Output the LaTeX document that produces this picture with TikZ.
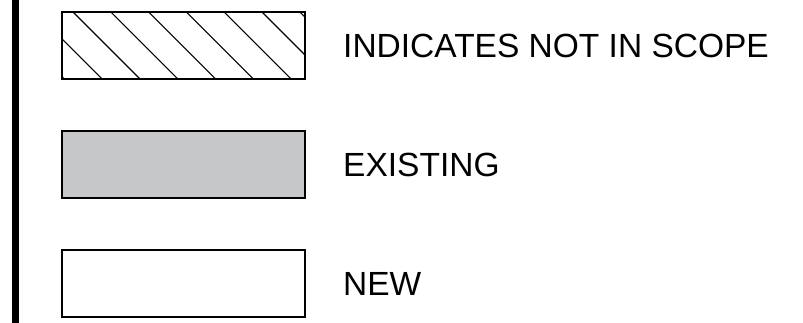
\documentclass[tikz,border=0pt]{standalone}
\usepackage{fontspec}
\setmainfont{Liberation Sans}
\usepackage{tikz}
\usetikzlibrary{positioning}
\definecolor{legendgray}{RGB}{198,199,201}
\tikzset{
  hatch lines/.style={path picture={%
    \foreach \k in {-2,...,6}
    \draw[line width=1.1pt] ([xshift=\k*37.8pt+11pt]path picture bounding box.north west) -- ++(90pt,-90pt);
  }},
  legendbox/.style={rectangle, draw=black, line width=2.6pt, fill=white,
    minimum width=243pt, minimum height=67pt, inner sep=0pt, outer sep=0pt},
}

\begin{document}
\begin{tikzpicture}[x=1pt, y=-1pt,
	legendtext/.style={anchor=west, inner sep=0pt, font=\fontsize{33.5}{40}\selectfont},
	node distance = 52pt and 38pt]
	\useasboundingbox (0,0) rectangle (803,323);

	% side rule
	\draw[line width=7pt] (15.5,0) -- (15.5,323);

	% legend boxes
	\node[legendbox, hatch lines] (scopebox) at (183.5,45.5) {};
	\node[legendbox, fill=legendgray, below = of scopebox] (existbox) {};
	\node[legendbox, below = of existbox] (newbox) {};

	% legend labels
	\node[legendtext, right = of scopebox] (scopetext) {INDICATES NOT IN SCOPE};
	\node[legendtext, right = of existbox] (existtext) {EXISTING};
	\node[legendtext, right = of newbox] (newtext) {NEW};
\end{tikzpicture}
\end{document}
